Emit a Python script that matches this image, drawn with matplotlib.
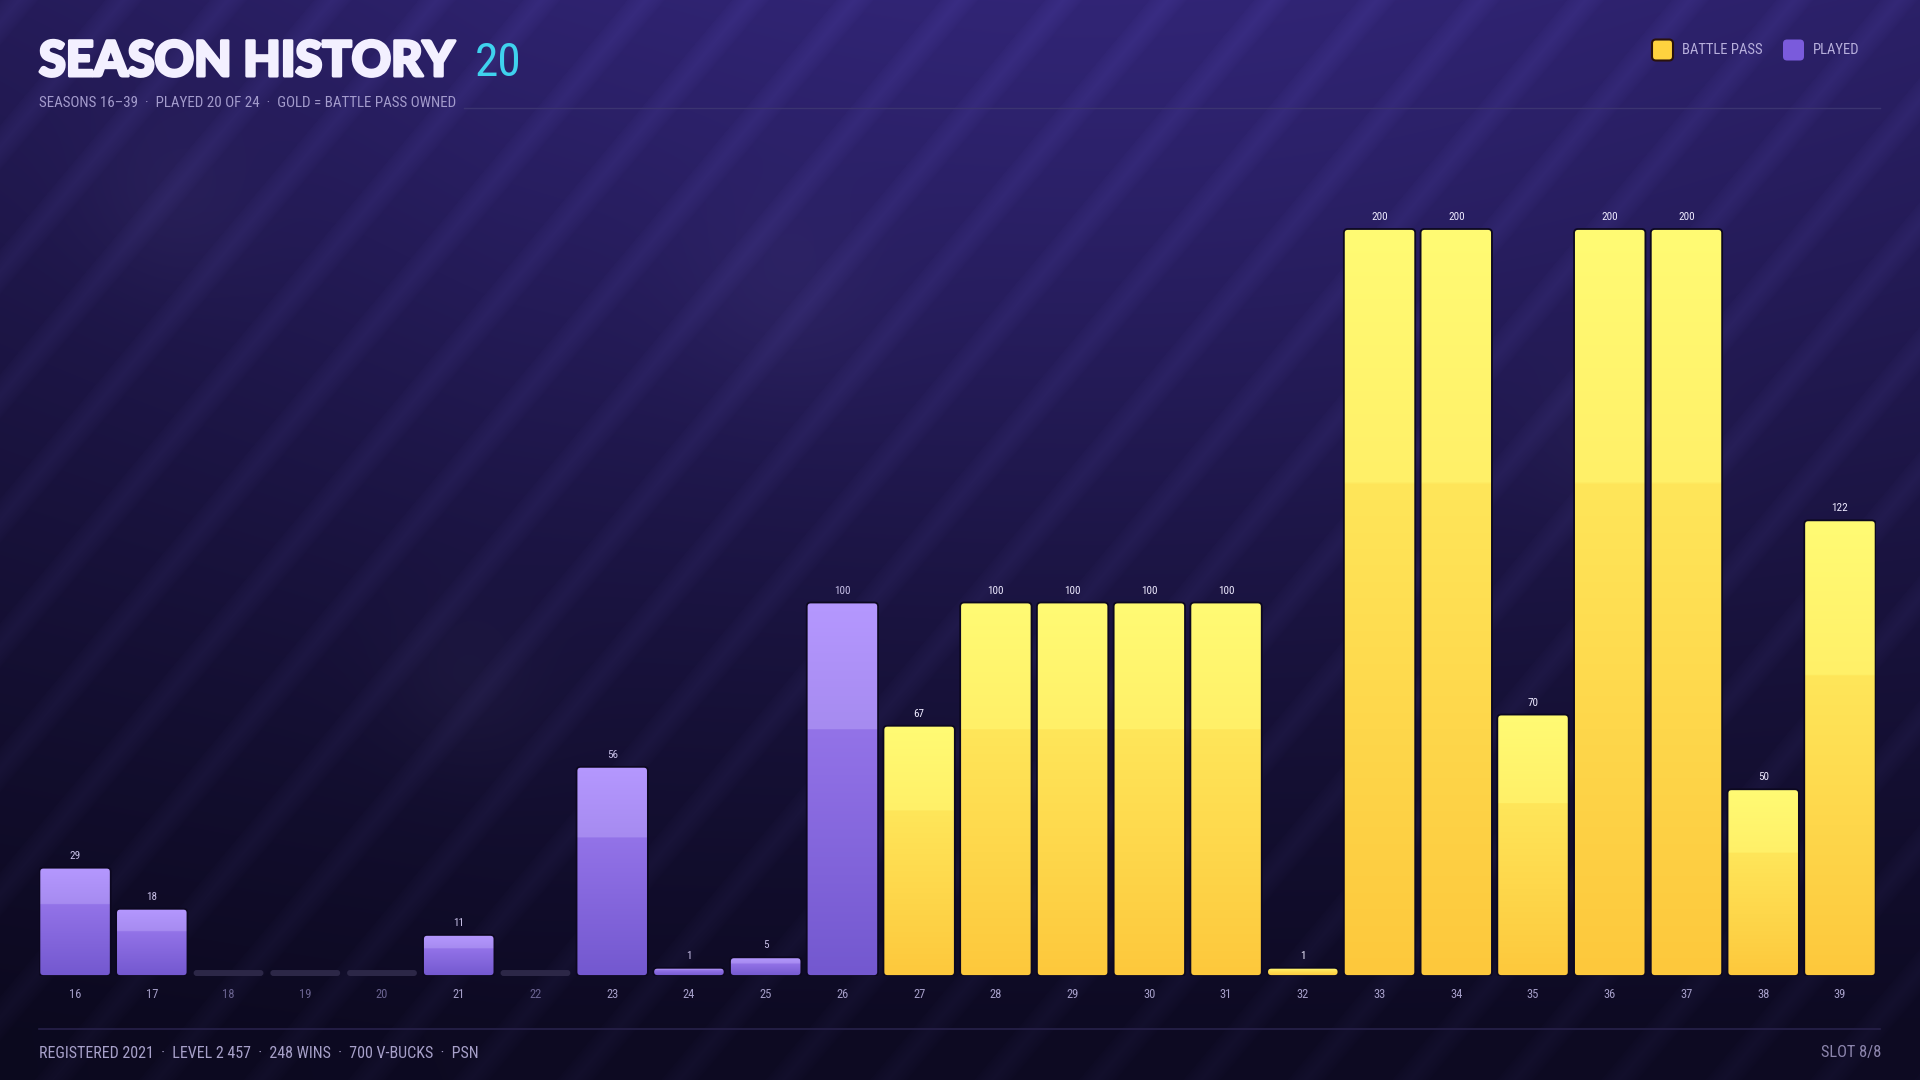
import numpy as np
import matplotlib
matplotlib.use("Agg")
import matplotlib.pyplot as plt
from matplotlib.patches import FancyBboxPatch
from matplotlib.colors import to_rgb
from matplotlib.lines import Line2D
import matplotlib.patheffects as pe

# ---------------- data ----------------
seasons = list(range(16, 40))
levels = [29, 18, 0, 0, 0, 11, 0, 56, 1, 5, 100, 67, 100, 100, 100, 100,
          1, 200, 200, 70, 200, 200, 50, 122]
battle_pass = [False] * 11 + [True] * 13
tick_labels = [str(s) for s in seasons]

title = "SEASON HISTORY"
title_count = "20"
subtitle = "SEASONS 16–39  ·  PLAYED 20 OF 24  ·  GOLD = BATTLE PASS OWNED"
footer_left = "REGISTERED 2021  ·  LEVEL 2 457  ·  248 WINS  ·  700 V-BUCKS  ·  PSN"
footer_right = "SLOT 8/8"
legend_labels = ["BATTLE PASS", "PLAYED"]

# ---------------- style ----------------
W, H = 1920, 1080
COND = ["Liberation Sans Narrow", "Roboto Condensed", "DejaVu Sans"]
HEAVY = ["Lato", "DejaVu Sans"]
GOLD = dict(top="#fffb74", mid_hi="#fff068", mid_lo="#ffe65a", bot="#fdc83c")
PURP = dict(top="#b598ff", mid_hi="#a68bf0", mid_lo="#9373e8", bot="#7358cf")
EDGE = "#0c0820"

fig = plt.figure(figsize=(W / 100, H / 100), dpi=100)

# ---------------- background ----------------
yy, xx = np.mgrid[0:H, 0:W].astype(float)
t = yy / H
top_c = np.array(to_rgb("#271d5e"))
bot_c = np.array(to_rgb("#0d0a22"))
tt = np.clip(t * 1.05, 0, 1) ** 0.9
img = top_c[None, None, :] * (1 - tt[..., None]) + bot_c[None, None, :] * tt[..., None]
glow = np.exp(-(((xx - 1100) / 900) ** 2 + ((yy - 80) / 520) ** 2))
img += glow[..., None] * np.array(to_rgb("#0d0a1e"))[None, None, :] * 0.8
img *= (0.9 + 0.1 * np.clip(xx / 500, 0, 1))[..., None]
for (cx, cy, r) in [(171, 202, 60), (784, 294, 70), (465, 686, 55), (1620, 440, 60)]:
    b = np.exp(-(((xx - cx) ** 2 + (yy - cy) ** 2) / (2 * r * r)))
    img += b[..., None] * 0.02
ang = np.deg2rad(50)
s = xx * np.sin(ang) + yy * np.cos(ang)
P = 80.0
ph = np.mod(s, P)
band = np.clip(1 - np.abs(ph - 14) / 15, 0, 1) ** 0.7
img += band[..., None] * np.array([0.032, 0.03, 0.055])[None, None, :] * (1 - 0.35 * t)[..., None]
img = np.clip(img, 0, 1)

bg = fig.add_axes([0, 0, 1, 1], zorder=-5)
bg.imshow(img, extent=(0, 1, 0, 1), aspect="auto", interpolation="bilinear")
bg.set_axis_off()

# ---------------- main axes ----------------
left, right = 39 / W, 1876 / W
bottom = 1 - 976 / H
y_max_frac = 1 - 229 / H
top = 0.83
ymax = max(levels) * (top - bottom) / (y_max_frac - bottom)

ax = fig.add_axes([left, bottom, right - left, top - bottom])
ax.patch.set_alpha(0)
for sp in ax.spines.values():
    sp.set_visible(False)

x = np.arange(len(seasons))
bw = 0.93
min_vis = 2.2
stub = 1.6
disp = [(max(v, min_vis) if v > 0 else stub) for v in levels]
bars = ax.bar(x, disp, width=bw, color="none", edgecolor="none")
xlim = (-bw / 2 - 0.005, len(seasons) - 1 + bw / 2 + 0.005)
ax.set_xlim(*xlim)
ax.set_ylim(0, ymax)

ax_w_px = (right - left) * W
ax_h_px = (top - bottom) * H
px_x = ax_w_px / (xlim[1] - xlim[0])
px_y = ax_h_px / ymax
aspect = px_x / px_y


def grad_array(c, n=300, step=0.66):
    f = np.linspace(0, 1, n)
    out = np.zeros((n, 1, 3))
    bot_, mlo, mhi, tp = (np.array(to_rgb(c[k])) for k in ("bot", "mid_lo", "mid_hi", "top"))
    for i, v in enumerate(f):
        if v < step:
            u = v / step
            out[i, 0] = bot_ * (1 - u) + mlo * u
        else:
            u = (v - step) / (1 - step)
            out[i, 0] = mhi * (1 - u) + tp * u
    return out


g_gold = grad_array(GOLD)
g_purp = grad_array(PURP)

for rect, v, bp in zip(bars, levels, battle_pass):
    x0, y0 = rect.get_xy()
    w_, h_ = rect.get_width(), rect.get_height()
    r_px = 4.0 if h_ * px_y > 12 else h_ * px_y / 2.0
    r = r_px / px_x
    if v == 0:
        p = FancyBboxPatch((x0 + 0.01, y0), w_ - 0.02, h_,
                           boxstyle=f"round,pad=0,rounding_size={r}",
                           mutation_aspect=aspect, facecolor="#2c2747",
                           edgecolor="none", zorder=2)
        ax.add_patch(p)
        continue
    p = FancyBboxPatch((x0, y0), w_, h_,
                       boxstyle=f"round,pad=0,rounding_size={r}",
                       mutation_aspect=aspect, facecolor="none",
                       edgecolor=EDGE, linewidth=1.3, zorder=4)
    ax.add_patch(p)
    im = ax.imshow(g_gold if bp else g_purp, extent=(x0, x0 + w_, y0, y0 + h_),
                   origin="lower", aspect="auto", interpolation="bilinear", zorder=3)
    im.set_clip_path(p)
    ax.annotate(str(v), (x0 + w_ / 2, h_), xytext=(0, 5), textcoords="offset points",
                ha="center", va="bottom", fontsize=8, family=COND,
                color="#eeeaff" if bp else "#c9c1e8", zorder=5)

ax.set_xlim(*xlim)
ax.set_ylim(0, ymax)
ax.set_yticks([])
ax.set_xticks(x)
ax.set_xticklabels(tick_labels, family=COND, fontsize=9)
ax.tick_params(axis="x", length=0, pad=9)
for lab, v in zip(ax.get_xticklabels(), levels):
    lab.set_color("#a59ec8" if v > 0 else "#6a6390")

# ---------------- header ----------------
fig.canvas.draw()
rend = fig.canvas.get_renderer()
t_title = fig.text(39 / W, 1 - 76 / H, title, family=HEAVY, fontweight="black",
                   fontsize=35, color="#f3f0ff", va="baseline", ha="left",
                   path_effects=[pe.withStroke(linewidth=2.2, foreground="#f3f0ff")])
bb = t_title.get_window_extent(renderer=rend)
fig.text((bb.x1 + 20) / W, 1 - 76 / H, title_count, family=COND, fontsize=34,
         color="#3fd2ee", va="baseline", ha="left")
t_sub = fig.text(39 / W, 1 - 107 / H, subtitle, family=COND, fontsize=10.8,
                 color="#a39bcc", va="baseline", ha="left")
sb = t_sub.get_window_extent(renderer=rend)
fig.add_artist(Line2D([(sb.x1 + 8) / W, 1880 / W], [1 - 108 / H, 1 - 108 / H],
                      transform=fig.transFigure, color="#3b3470", lw=1.0))

# legend
leg_y = 50
sq = 21
leg_items = [(1652, legend_labels[0], "#ffd23f", "#2a120c"),
             (1783, legend_labels[1], "#7a5bdc", "none")]
for lx, lab, fc, ec in leg_items:
    fig.add_artist(FancyBboxPatch((lx / W, 1 - (leg_y + sq / 2) / H), sq / W, sq / H,
                                  boxstyle=f"round,pad=0,rounding_size={4 / W}",
                                  mutation_aspect=W / H, transform=fig.transFigure,
                                  facecolor=fc, edgecolor=ec, linewidth=1.5))
    fig.text((lx + sq + 9) / W, 1 - leg_y / H, lab, family=COND, fontsize=10.5,
             color="#b7afdc", va="center", ha="left")

# ---------------- footer ----------------
fig.add_artist(Line2D([39 / W, 1880 / W], [1 - 1029 / H, 1 - 1029 / H],
                      transform=fig.transFigure, color="#27214a", lw=1.2))
fig.text(39 / W, 1 - 1053 / H, footer_left, family=COND, fontsize=11.5,
         color="#a7a0c9", va="center", ha="left")
fig.text(1881 / W, 1 - 1053 / H, footer_right, family=COND, fontsize=11.8,
         color="#8c85ad", va="center", ha="right")

fig.savefig("out.png", dpi=100)
